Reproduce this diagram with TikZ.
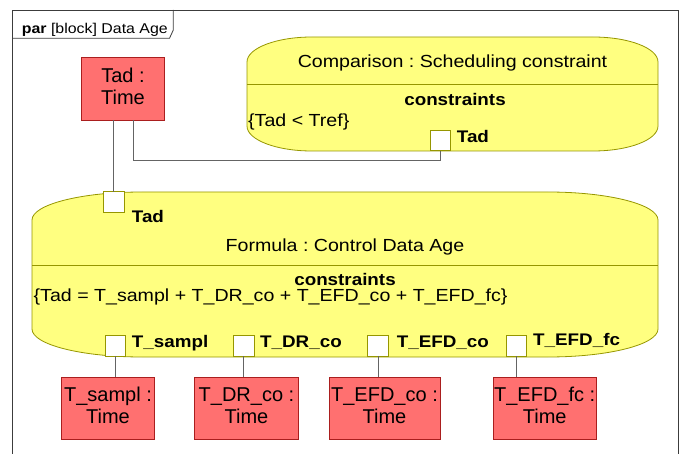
\documentclass[tikz,border=0pt]{standalone}
\usepackage{fontspec}
\setmainfont{Liberation Sans}[FakeStretch=1.12]
\newfontfamily\boxfont{Liberation Sans}
\definecolor{blockfill}{RGB}{255,255,128}
\definecolor{blockline}{RGB}{150,150,0}
\definecolor{redfill}{RGB}{255,112,112}
\definecolor{redline}{RGB}{170,30,30}
\definecolor{connc}{RGB}{100,100,100}
\definecolor{framec}{RGB}{60,60,60}
\frenchspacing
\begin{document}
\frenchspacing
\begin{tikzpicture}[x=1pt,y=-1pt,
  redbox/.style={draw=redline, fill=redfill, line width=0.8pt, inner sep=0pt, outer sep=0pt,
    align=center, text depth=5.5pt, font=\boxfont\fontsize{20}{22}\selectfont},
  portbox/.style={draw=blockline, fill=white, line width=0.8pt, minimum size=20.5pt, inner sep=0pt, outer sep=0pt},
  plabel/.style={anchor=base west, inner sep=0pt, font=\bfseries\fontsize{16.8}{18}\selectfont},
  btitle/.style={anchor=base, inner sep=0pt, font=\fontsize{17.5}{20}\selectfont},
  bhead/.style={anchor=base, inner sep=0pt, font=\bfseries\fontsize{16.8}{18}\selectfont},
  btext/.style={anchor=base west, inner sep=0pt, font=\fontsize{17.5}{20}\selectfont},
  blockshape/.style={draw=blockline, fill=blockfill, line width=0.8pt},
  divider/.style={draw=blockline, line width=0.8pt},
  conn/.style={draw=connc, line width=0.9pt},
  framestyle/.style={draw=framec, line width=0.8pt}]
\useasboundingbox (0,0) rectangle (685,454);
\clip (0,0) rectangle (685,454);

% frame
\draw[framestyle] (12,460) -- (12,10) -- (678.3,10) -- (678.3,460);
\draw[framestyle] (12,38.3) -- (169.5,38.3) -- (173.3,30) -- (173.3,10);
\node[anchor=base west, inner sep=0pt, font=\fontsize{14.2}{16}\selectfont] (title) at (21.7,33.5) {\textbf{par} [block] Data Age};

% comparison block
\path[blockshape] (247,62) .. controls (247,48.2) and (276.1,37) .. (312,37) -- (593,37)
  .. controls (629.1,37) and (658,48.2) .. (658,62) -- (658,126)
  .. controls (658,139.8) and (629.1,151) .. (593,151) -- (312,151)
  .. controls (276.1,151) and (247,139.8) .. (247,126) -- cycle;
\draw[divider] (247,84.5) -- (658,84.5);
\node[btitle] (ctitle) at (452.5,67.3) {Comparison : Scheduling constraint};
\node[bhead] (chead) at (455,106) {constraints};
\node[btext] (cexpr) at (248,126.7) {\{Tad < Tref\}};

% formula block
\path[blockshape] (32,220) .. controls (32,204.54) and (81.25,192) .. (142,192) -- (548,192)
  .. controls (608.75,192) and (658,204.54) .. (658,220) -- (658,329)
  .. controls (658,344.54) and (608.75,357) .. (548,357) -- (142,357)
  .. controls (81.25,357) and (32,344.54) .. (32,329) -- cycle;
\draw[divider] (32,265.7) -- (658,265.7);
\node[btitle] (ftitle) at (345,251.4) {Formula : Control Data Age};
\node[bhead] (fhead) at (345,286) {constraints};
\node[btext] (fexpr) at (33.5,301.9) {\{Tad = T\_sampl + T\_DR\_co + T\_EFD\_co + T\_EFD\_fc\}};

% value boxes
\node[redbox, minimum width=82.6pt, minimum height=62.7pt] (tad) at (123,88.7) {Tad :\\Time};
\node[redbox, minimum width=92.6pt, minimum height=61.7pt] (sampl) at (108,408.2) {T\_sampl :\\Time};
\node[redbox, minimum width=104pt, minimum height=61.7pt] (drco) at (246.5,408.2) {T\_DR\_co :\\Time};
\node[redbox, minimum width=111pt, minimum height=61.7pt] (efdco) at (384.5,408.2) {T\_EFD\_co :\\Time};
\node[redbox, minimum width=102.7pt, minimum height=61.7pt] (efdfc) at (544.7,408.2) {T\_EFD\_fc :\\Time};

% ports
\node[portbox] (fTad) at (113.7,202) {};
\node[portbox] (cTad) at (440.5,140.4) {};
\node[portbox] (psampl) at (115.3,346) {};
\node[portbox] (pdrco) at (243.8,346) {};
\node[portbox] (pefdco) at (378,346) {};
\node[portbox] (pefdfc) at (516.2,346) {};

% port labels
\node[plabel] (lfTad) at (131.7,222.7) {Tad};
\node[plabel] (lcTad) at (456.7,142.7) {Tad};
\node[plabel] (lsampl) at (131.7,347.7) {T\_sampl};
\node[plabel] (ldrco) at (260,347.7) {T\_DR\_co};
\node[plabel] (lefdco) at (396.7,347.7) {T\_EFD\_co};
\node[plabel] (lefdfc) at (533,345) {T\_EFD\_fc};

% connectors
\coordinate (bend) at (133.3,160.7);
\draw[conn] (fTad.north) -- (fTad.north |- tad.south);
\draw[conn] (bend |- tad.south) -- (bend) -| (cTad.south);
\draw[conn] (psampl.south) -- (psampl.south |- sampl.north);
\draw[conn] (pdrco.south) -- (pdrco.south |- drco.north);
\draw[conn] (pefdco.south) -- (pefdco.south |- efdco.north);
\draw[conn] (pefdfc.south) -- (pefdfc.south |- efdfc.north);
\end{tikzpicture}
\end{document}
